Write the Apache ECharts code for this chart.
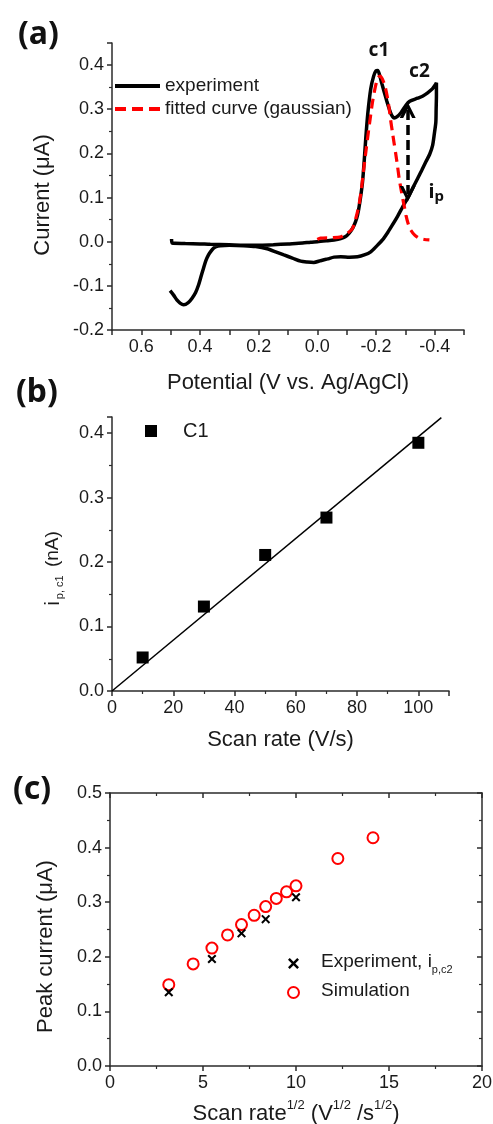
<!DOCTYPE html>
<html><head><meta charset="utf-8">
<script src="https://cdn.jsdelivr.net/npm/echarts@6/dist/echarts.min.js"></script>
<style>html,body{margin:0;padding:0;background:#fff}#c{width:493px;height:1124px}</style>
</head><body><div id="c"></div><script>
// ---------- DATA ----------
// (a) cyclic voltammogram (experiment), in sweep order
const cvPotential = [0.497,0.495,0.45,0.40,0.365,0.30,0.25,0.194,0.15,0.10,0.05,0.023,0.0,-0.03,-0.057,-0.08,-0.095,-0.108,-0.12,-0.13,-0.137,-0.145,-0.154,-0.160,-0.165,-0.172,-0.182,-0.192,-0.200,-0.206,-0.212,-0.220,-0.228,-0.237,-0.245,-0.253,-0.262,-0.272,-0.285,-0.302,-0.315,-0.342,-0.360,-0.376,-0.392,-0.404,-0.406,
  -0.406,-0.405,-0.404,-0.399,-0.393,-0.383,-0.370,-0.356,-0.342,-0.327,-0.313,-0.302,-0.291,-0.274,-0.256,-0.240,-0.222,-0.202,-0.182,-0.160,-0.137,-0.110,-0.080,-0.057,-0.035,-0.011,0.012,0.035,0.057,0.085,0.114,0.142,0.171,0.21,0.251,0.30,0.331,0.345,0.354,0.363,0.371,0.380,0.388,0.397,0.405,0.415,0.427,0.440,0.456,0.468,0.479,0.490,0.502];
const cvCurrent = [0.006,-0.003,-0.004,-0.005,-0.006,-0.007,-0.008,-0.008,-0.007,-0.005,-0.003,-0.001,0.0,0.002,0.004,0.007,0.011,0.019,0.030,0.045,0.060,0.090,0.135,0.185,0.233,0.290,0.346,0.375,0.387,0.388,0.378,0.358,0.339,0.318,0.301,0.287,0.280,0.283,0.292,0.309,0.318,0.325,0.330,0.337,0.346,0.357,0.360,
  0.330,0.300,0.271,0.245,0.218,0.198,0.181,0.162,0.143,0.124,0.105,0.092,0.079,0.058,0.038,0.021,0.004,-0.010,-0.023,-0.030,-0.034,-0.035,-0.034,-0.035,-0.039,-0.043,-0.047,-0.046,-0.044,-0.037,-0.030,-0.023,-0.016,-0.011,-0.009,-0.008,-0.009,-0.011,-0.015,-0.022,-0.030,-0.043,-0.060,-0.080,-0.098,-0.115,-0.128,-0.138,-0.143,-0.139,-0.132,-0.121,-0.111];
// (a) fitted gaussian
const fitPotential = [0.0,-0.011,-0.05,-0.08,-0.10,-0.12,-0.132,-0.142,-0.150,-0.157,-0.164,-0.171,-0.180,-0.188,-0.196,-0.203,-0.209,-0.214,-0.222,-0.230,-0.238,-0.245,-0.250,-0.256,-0.262,-0.268,-0.274,-0.279,-0.285,-0.291,-0.297,-0.302,-0.310,-0.319,-0.332,-0.347,-0.365,-0.382];
const fitCurrent = [0.005,0.008,0.009,0.011,0.018,0.030,0.055,0.083,0.118,0.158,0.196,0.233,0.278,0.316,0.345,0.365,0.373,0.375,0.368,0.354,0.330,0.301,0.275,0.248,0.222,0.196,0.168,0.143,0.120,0.098,0.078,0.060,0.040,0.026,0.015,0.008,0.005,0.004];
// (b) peak current c1 vs scan rate
const scanRate = [10,30,50,70,100];
const ipC1 = [0.052,0.131,0.211,0.269,0.385];
const linFitRate = [0,107.5];
const linFitCurrent = [0,0.424];
// (c) peak current vs sqrt(scan rate)
const expSqrtRate = [3.16,5.48,7.07,8.37,10.0];
const expPeak = [0.135,0.196,0.243,0.269,0.309];
const simSqrtRate = [3.16,4.47,5.48,6.32,7.07,7.75,8.37,8.94,9.49,10.0,12.25,14.14];
const simPeak = [0.149,0.187,0.216,0.240,0.259,0.276,0.292,0.307,0.319,0.330,0.380,0.418];

// ---------- CHART ----------
const zip = (a, b) => a.map((v, i) => [v, b[i]]);
const FONT = '"Liberation Sans", Arial, sans-serif';
const BOLD = '"Noto Sans", "Liberation Sans", sans-serif';
const AX = '#2b2b2b', TXT = '#1a1a1a';

function oneDec(v, even) {
  const n = Math.round(v * 10);
  if (Math.abs(v * 10 - n) > 1e-6) return '';
  if (even && n % 2 !== 0) return '';
  return (n / 10).toFixed(1);
}
function axis(o) {
  return Object.assign({
    type: 'value', nameLocation: 'middle', nameMoveOverlap: false,
    axisLine: { show: true, onZero: false, lineStyle: { color: AX, width: 1.5 } },
    axisTick: { show: true, inside: false, length: 5, lineStyle: { color: AX, width: 1.5 } },
    minorTick: { show: true, splitNumber: 2, length: 3, lineStyle: { color: AX, width: 1.2 } },
    splitLine: { show: false }, minorSplitLine: { show: false },
    axisLabel: Object.assign({ color: TXT, fontFamily: FONT, fontSize: 18, margin: 8 }, o.label || {}),
    nameTextStyle: Object.assign({ color: TXT, fontFamily: FONT, fontSize: 22 }, o.nameStyle || {})
  }, o.opts);
}
const ARROW = 'path://M5,0 L10,10 L7.8,10 L5,4.4 L2.2,10 L0,10 Z';
const XMARK = 'path://M1.6,0 L5,3.4 L8.4,0 L10,1.6 L6.6,5 L10,8.4 L8.4,10 L5,6.6 L1.6,10 L0,8.4 L3.4,5 L0,1.6 Z';
const SOLID_ICON = 'path://M0,0 L45,0 L45,4 L0,4 Z';
const DASH_ICON = 'path://M0,0 L11,0 L11,4 L0,4 Z M17,0 L28,0 L28,4 L17,4 Z M34,0 L45,0 L45,4 L34,4 Z';
const SQUARE_ICON = 'path://M0,0 L10,0 L10,10 L0,10 Z';

const chart = echarts.init(document.getElementById('c'));
chart.setOption({
  animation: false,
  backgroundColor: '#fff',
  title: [
    { text: '(a)', left: 13, top: 13, textStyle: { fontFamily: BOLD, fontWeight: 'bold', fontSize: 32, lineHeight: 34, color: '#111' } },
    { text: '(b)', left: 11, top: 371, textStyle: { fontFamily: BOLD, fontWeight: 'bold', fontSize: 32, lineHeight: 34, color: '#111' } },
    { text: '(c)', left: 8, top: 768, textStyle: { fontFamily: BOLD, fontWeight: 'bold', fontSize: 32, lineHeight: 34, color: '#111' } }
  ],
  grid: [
    { left: 112, top: 43, width: 352, height: 287, outerBoundsMode: 'none' },
    { left: 112, top: 417, width: 337, height: 274, outerBoundsMode: 'none' },
    { left: 110, top: 793, width: 372, height: 273, outerBoundsMode: 'none' }
  ],
  xAxis: [
    axis({ opts: { gridIndex: 0, min: -0.5, max: 0.7, interval: 0.1, inverse: true, name: 'Potential (V vs. Ag/AgCl)', nameGap: 42,
      minorTick: { show: false } },
      label: { formatter: v => oneDec(v, true) } }),
    axis({ opts: { gridIndex: 1, min: 0, max: 110, interval: 20, name: 'Scan rate (V/s)', nameGap: 38 },
      label: { formatter: v => (Math.round(v) % 20 === 0 ? String(Math.round(v)) : '') } }),
    axis({ opts: { gridIndex: 2, min: 0, max: 20, interval: 5, name: '{n|Scan rate}{s|1/2}{n| (V}{s|1/2}{n| /s}{s|1/2}{n|)}', nameGap: 33 },
      nameStyle: { rich: {
        n: { fontFamily: FONT, fontSize: 22, color: TXT, lineHeight: 26, verticalAlign: 'bottom' },
        s: { fontFamily: FONT, fontSize: 13, color: TXT, lineHeight: 14, verticalAlign: 'top' } } } }),
    axis({ opts: { gridIndex: 2, position: 'top', min: 0, max: 20, interval: 5,
      axisTick: { show: true, inside: true, length: 5, lineStyle: { color: AX, width: 1.5 } },
      minorTick: { show: true, splitNumber: 2, length: 3, lineStyle: { color: AX, width: 1.2 } } },
      label: { show: false } })
  ],
  yAxis: [
    axis({ opts: { gridIndex: 0, min: -0.2, max: 0.45, interval: 0.1, name: 'Current (\u03bcA)', nameGap: 58 },
      label: { formatter: v => oneDec(v, false) }, nameStyle: { padding: [0, 17, 0, 0] } }),
    axis({ opts: { gridIndex: 1, min: 0, max: 0.425, interval: 0.1, name: '{i|i}{s|p, c1}{n| (nA)}', nameGap: 47 },
      label: { formatter: v => oneDec(v, false) },
      nameStyle: { padding: [0, 29, 0, 0], rich: {
        i: { fontFamily: FONT, fontSize: 21, color: TXT, lineHeight: 22, verticalAlign: 'top' },
        s: { fontFamily: FONT, fontSize: 11, color: TXT, lineHeight: 11, verticalAlign: 'bottom', padding: [0, 3, 0, 2] },
        n: { fontFamily: FONT, fontSize: 19, color: TXT, lineHeight: 22, verticalAlign: 'top' } } } }),
    axis({ opts: { gridIndex: 2, min: 0, max: 0.5, interval: 0.1, name: 'Peak current (\u03bcA)', nameGap: 53 },
      label: { formatter: v => oneDec(v, false) }, nameStyle: { padding: [0, 34, 0, 0] } }),
    axis({ opts: { gridIndex: 2, position: 'right', min: 0, max: 0.5, interval: 0.1,
      axisTick: { show: true, inside: true, length: 5, lineStyle: { color: AX, width: 1.5 } },
      minorTick: { show: true, splitNumber: 2, length: 3, lineStyle: { color: AX, width: 1.2 } } },
      label: { show: false } })
  ],
  legend: [
    { data: [{ name: 'experiment', icon: SOLID_ICON }, { name: 'fitted curve (gaussian)', icon: DASH_ICON }],
      orient: 'vertical', left: 115, top: 76, padding: 0,
      itemWidth: 45, itemHeight: 14, itemGap: 3, selectedMode: false,
      textStyle: { fontFamily: FONT, fontSize: 19, color: TXT, lineHeight: 20 } },
    { data: [{ name: 'C1', icon: SQUARE_ICON }], left: 145, top: 421, padding: 0, itemWidth: 54, itemHeight: 12, selectedMode: false,
      textStyle: { fontFamily: FONT, fontSize: 20, color: TXT, lineHeight: 20 } },
    { data: [{ name: 'Experiment', icon: XMARK }, { name: 'Simulation' }], orient: 'vertical', left: 287, top: 952, padding: 0,
      itemWidth: 45, itemHeight: 11, itemGap: 6, selectedMode: false,
      formatter: n => n === 'Experiment' ? '{t|Experiment, i}{s|p,c2}' : '{t|Simulation}',
      textStyle: { fontFamily: FONT, fontSize: 19, color: TXT, lineHeight: 23,
        rich: { t: { fontFamily: FONT, fontSize: 19, color: TXT, lineHeight: 23, verticalAlign: 'top' },
                 s: { fontFamily: FONT, fontSize: 11, color: TXT, lineHeight: 11, verticalAlign: 'bottom' } } } }
  ],
  series: [
    { name: 'experiment', type: 'line', xAxisIndex: 0, yAxisIndex: 0, data: zip(cvPotential, cvCurrent),
      showSymbol: false, symbol: 'none', smooth: 0.25, z: 2,
      lineStyle: { color: '#000', width: 3.5 }, itemStyle: { color: '#000' },
      markLine: { silent: true, symbol: [ARROW, ARROW], symbolSize: 16, label: { show: false },
        lineStyle: { color: '#000', width: 3.5, type: [10, 5] }, emphasis: { disabled: true },
        data: [[{ coord: [-0.308, 0.298] }, { coord: [-0.308, 0.108] }]] },
      markPoint: { silent: true, symbol: 'circle', symbolSize: 1, itemStyle: { color: 'rgba(0,0,0,0)' },
        label: { show: true, position: 'inside', color: '#111', fontFamily: BOLD, fontWeight: 'bold', fontSize: 19,
          formatter: p => p.name === 'ip' ? '{i|i}{p|p}' : p.name,
          rich: { i: { fontFamily: BOLD, fontWeight: 'bold', fontSize: 20, color: '#111', lineHeight: 22, verticalAlign: 'top' },
                  p: { fontFamily: BOLD, fontWeight: 'bold', fontSize: 15, color: '#111', lineHeight: 15, verticalAlign: 'bottom' } } },
        data: [ { name: 'c1', coord: [-0.21, 0.433] }, { name: 'c2', coord: [-0.348, 0.385] }, { name: 'ip', coord: [-0.405, 0.11] } ] } },
    { name: 'fitted curve (gaussian)', type: 'line', xAxisIndex: 0, yAxisIndex: 0, data: zip(fitPotential, fitCurrent),
      showSymbol: false, symbol: 'none', smooth: 0.25, z: 3,
      lineStyle: { color: '#ff0000', width: 3.2, type: [10, 6] }, itemStyle: { color: '#ff0000' } },
    { name: 'fit', type: 'line', xAxisIndex: 1, yAxisIndex: 1, data: zip(linFitRate, linFitCurrent),
      showSymbol: false, symbol: 'none', lineStyle: { color: '#000', width: 1.5 }, z: 2 },
    { name: 'C1', type: 'scatter', xAxisIndex: 1, yAxisIndex: 1, data: zip(scanRate, ipC1),
      symbol: 'rect', symbolSize: 12, itemStyle: { color: '#000', opacity: 1 }, z: 3 },
    { name: 'Simulation', type: 'scatter', xAxisIndex: 2, yAxisIndex: 2, data: zip(simSqrtRate, simPeak),
      symbol: 'emptyCircle', symbolSize: 11, itemStyle: { color: '#ff0000', borderWidth: 2, opacity: 1 }, z: 2 },
    { name: 'Experiment', type: 'scatter', xAxisIndex: 2, yAxisIndex: 2, data: zip(expSqrtRate, expPeak),
      symbol: XMARK, symbolSize: 9, itemStyle: { color: '#000', opacity: 1 }, z: 3 }
  ]
});
</script></body></html>
